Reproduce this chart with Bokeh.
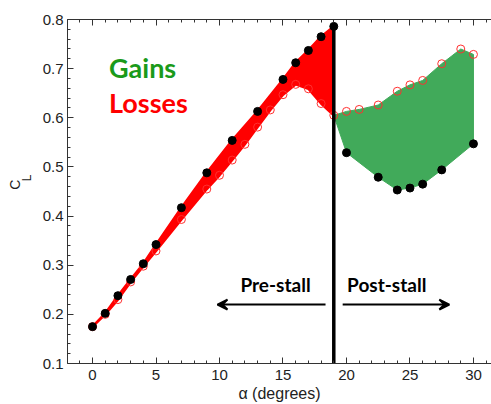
import math
from bokeh.plotting import figure
from bokeh.layouts import row
from bokeh.models import Range1d, LinearAxis, FixedTicker, Label, Arrow, VeeHead
from bokeh.embed import file_html
from bokeh.resources import INLINE

# ---- data ----
alpha_pre_black = [0, 1, 2, 3, 4, 5, 7, 9, 11, 13, 15, 16, 17, 18, 19]
cl_pre_black = [0.175, 0.202, 0.238, 0.271, 0.303, 0.342, 0.417, 0.488, 0.554,
                0.613, 0.678, 0.712, 0.737, 0.765, 0.786]
alpha_pre_red = [0, 1, 2, 3, 4, 5, 7, 9, 10, 11, 12, 13, 14, 15, 16, 17, 18, 19]
cl_pre_red = [0.175, 0.200, 0.230, 0.266, 0.298, 0.329, 0.393, 0.455, 0.483,
              0.514, 0.546, 0.581, 0.616, 0.647, 0.668, 0.659, 0.629, 0.605]
alpha_post_red = [20, 21, 22.5, 24, 25, 26, 27.5, 29, 30]
cl_post_red = [0.613, 0.617, 0.626, 0.654, 0.667, 0.676, 0.710, 0.740, 0.729]
alpha_post_black = [20, 22.5, 24, 25, 26, 27.5, 30]
cl_post_black = [0.529, 0.479, 0.453, 0.457, 0.465, 0.494, 0.547]
stall_alpha = 19
x_ticks = [0, 5, 10, 15, 20, 25, 30]
y_ticks = [0.1, 0.2, 0.3, 0.4, 0.5, 0.6, 0.7, 0.8]

FONT = "Liberation Sans"
TITLE_W = 34

# narrow strip holding the rotated y-axis title "C" with subscript "L"
fy = figure(width=TITLE_W, height=404, output_backend="svg", toolbar_location=None,
            x_range=Range1d(0, TITLE_W), y_range=Range1d(0, 404),
            min_border_left=0, min_border_right=0, min_border_top=0, min_border_bottom=0,
            x_axis_location=None, y_axis_location=None)
fy.outline_line_color = None
fy.xgrid.visible = False
fy.ygrid.visible = False
fy.add_layout(Label(x=22, y=404 - 194, text="C", text_font=FONT, text_font_size="14px",
                    angle=math.pi / 2, text_align="center", text_color="#222222"))
fy.add_layout(Label(x=33, y=404 - 186, text="L", text_font=FONT, text_font_size="12px",
                    angle=math.pi / 2, text_align="center", text_color="#222222"))

p = figure(width=491 - TITLE_W, height=404, output_backend="svg", toolbar_location=None,
           x_range=Range1d(-1.97, 31.42), y_range=Range1d(0.1, 0.8),
           min_border_left=67 - TITLE_W, min_border_right=0, min_border_top=19,
           min_border_bottom=41, x_axis_location=None, y_axis_location=None)
p.outline_line_color = None
p.xgrid.visible = False
p.ygrid.visible = False


def style(ax, labels=True):
    ax.axis_line_color = "#333333"
    ax.major_tick_line_color = "#333333"
    ax.minor_tick_line_color = "#333333"
    ax.major_tick_in = 6
    ax.major_tick_out = 0
    ax.minor_tick_in = 3
    ax.minor_tick_out = 0
    ax.major_label_text_font = FONT
    ax.major_label_text_font_size = "15px"
    ax.major_label_text_color = "#222222"
    if not labels:
        ax.major_label_text_alpha = 0

xb = LinearAxis(ticker=FixedTicker(ticks=x_ticks, minor_ticks=list(range(-1, 32))))
style(xb)
xb.major_label_standoff = 6
xb.axis_label = "\u03b1 (degrees)"
xb.axis_label_text_font = FONT
xb.axis_label_text_font_size = "16px"
xb.axis_label_text_font_style = "normal"
xb.axis_label_text_color = "#222222"
xb.axis_label_standoff = 2
p.add_layout(xb, "below")
xt = LinearAxis(ticker=FixedTicker(ticks=x_ticks, minor_ticks=list(range(-1, 32))))
style(xt, labels=False)
xt.major_label_text_font_size = "0px"
xt.major_label_standoff = 0
p.add_layout(xt, "above")
yl = LinearAxis(ticker=FixedTicker(ticks=y_ticks,
                                   minor_ticks=[round(0.1 + 0.02 * i, 2) for i in range(36)]))
style(yl)
yl.major_label_standoff = 4
p.add_layout(yl, "left")

# ---- losses region (red) ----
px = alpha_pre_black + alpha_pre_red[::-1]
py = cl_pre_black + cl_pre_red[::-1]
p.patch(px, py, fill_color="#ff0000", line_color="#ff0000", line_width=2.5, line_join="round")

# ---- gains region (green) ----
gx = [stall_alpha] + alpha_post_red + alpha_post_black[::-1]
gy = [cl_pre_red[-1]] + cl_post_red + cl_post_black[::-1]
p.patch(gx, gy, fill_color="#41aa5a", line_color="#41aa5a", line_width=1)

# ---- markers ----
p.scatter(alpha_pre_red + alpha_post_red, cl_pre_red + cl_post_red, size=8,
          fill_color=None, line_color="#ff3030", line_width=1)
# stall line
p.segment(x0=[stall_alpha], y0=[cl_pre_black[-1]], x1=[stall_alpha], y1=[0.1],
          line_color="black", line_width=3.5)
p.scatter(alpha_pre_black + alpha_post_black, cl_pre_black + cl_post_black, size=8,
          fill_color="black", line_color="black")

# ---- annotations ----
p.add_layout(Label(x=1.3, y=0.668, text="Gains", text_font="Lato", text_font_style="bold",
                   text_font_size="27px", text_color="#1a9a1a"))
p.add_layout(Label(x=1.3, y=0.597, text="Losses", text_font="Lato", text_font_style="bold",
                   text_font_size="27px", text_color="#ff0000"))
p.add_layout(Label(x=11.65, y=0.238, text="Pre-stall", text_font="Lato", text_font_style="bold",
                   text_font_size="19px", text_color="black"))
p.add_layout(Label(x=20.05, y=0.238, text="Post-stall", text_font="Lato", text_font_style="bold",
                   text_font_size="19px", text_color="black"))
p.add_layout(Arrow(x_start=18.35, y_start=0.22, x_end=9.84, y_end=0.22, line_width=2,
                   end=VeeHead(size=10, line_width=2, fill_color="black")))
p.add_layout(Arrow(x_start=19.7, y_start=0.22, x_end=28.1, y_end=0.22, line_width=2,
                   end=VeeHead(size=10, line_width=2, fill_color="black")))

layout = row(fy, p, spacing=0)
open("out.html", "w").write(file_html(layout, INLINE))
